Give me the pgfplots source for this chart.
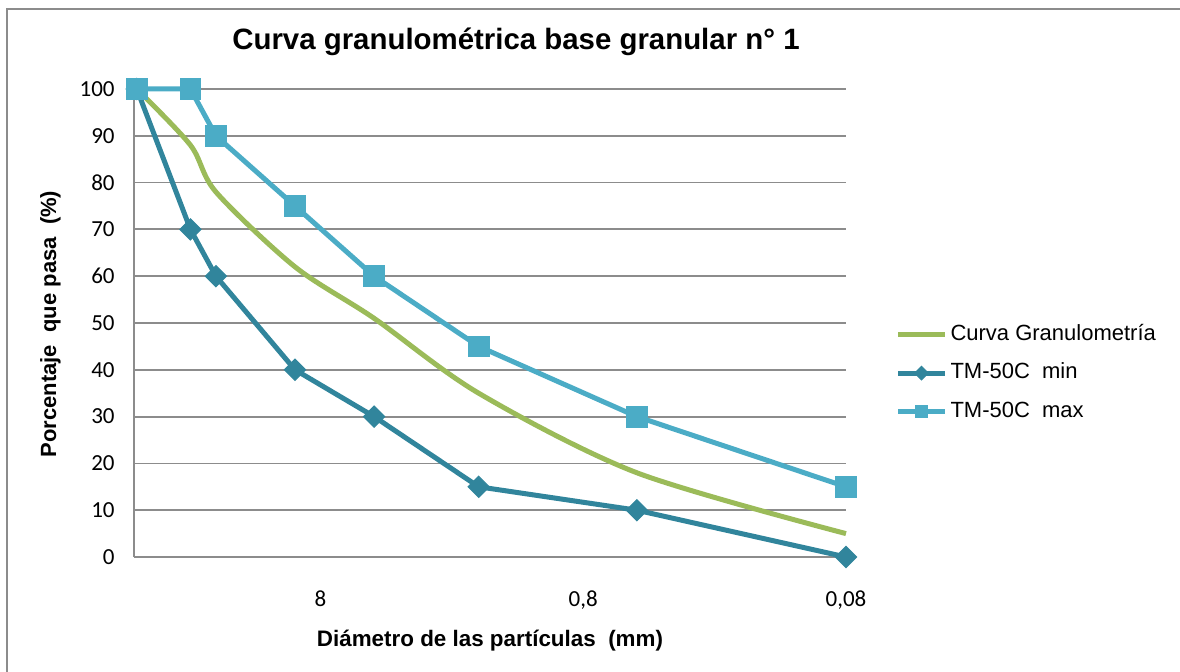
\documentclass[border=0pt]{standalone}
\usepackage{pgfplots}
\pgfplotsset{compat=1.18}
\usepackage{fontspec}
\setmainfont{Liberation Sans}
\newfontfamily\tickfont{Carlito}
\definecolor{curvegreen}{HTML}{9BBB59}
\definecolor{mintm}{HTML}{31859C}
\definecolor{maxtm}{HTML}{4BACC6}
\definecolor{gridgray}{HTML}{8C8C8C}

% sieve sizes (mm) and percentage passing
\pgfplotstableread{
d     pct
40    100
25    88
20    78
10    62
5     51
2     35
0.5   18
0.08  5
}\curvadata
\pgfplotstableread{
d     pct
40    100
25    70
20    60
10    40
5     30
2     15
0.5   10
0.08  0
}\mindata
\pgfplotstableread{
d     pct
40    100
25    100
20    90
10    75
5     60
2     45
0.5   30
0.08  15
}\maxdata

\begin{document}
\begin{tikzpicture}[x=0.5pt,y=0.5pt]
\path[use as bounding box] (0,0) rectangle (1180,671);
% chart frame
\draw[gridgray, line width=1pt] (7,-10) -- (7,662) -- (1195,662);

\begin{axis}[
  at={(67pt,57pt)}, anchor=south west,
  scale only axis, width=356pt, height=234pt,
  xmode=log, x dir=reverse, xmin=0.08, xmax=41,
  ymin=0, ymax=100, ytick={0,10,...,100},
  xtick={0.08,0.8,8}, xticklabels={{0,08},{0,8},{8}},
  xminorticks=false,
  axis x line*=bottom, axis y line*=left,
  axis line style={gridgray, line width=0.9pt, -},
  ymajorgrids, major grid style={gridgray, line width=0.9pt},
  major tick length=0pt, tick style={draw=none},
  /pgf/number format/assume math mode=true,
  ticklabel style={font=\tickfont\fontsize{11.5}{13}\selectfont},
  xticklabel style={inner sep=0pt, anchor=north, yshift=-16.5pt},
  yticklabel style={inner sep=0pt, anchor=east, xshift=-9.5pt},
  clip=false,
  legend style={at={(1.069,0.393)}, anchor=west, draw=none, fill=none,
    inner sep=0pt, column sep=1.5pt, row sep=8.75pt,
    nodes={inner sep=0pt, text height=8pt, text depth=2.5pt},
    font=\fontsize{11}{13}\selectfont},
  legend cell align=left,
  legend image code/.code={
    \draw[mark repeat=2, mark phase=2, #1]
      plot coordinates {(0pt,0pt) (11.75pt,0pt) (23.5pt,0pt)};},
]
\addplot[curvegreen, line width=2.5pt, smooth, tension=0.5, no marks]
  table[x=d, y=pct] {\curvadata};
\addlegendentry{Curva Granulometría}

\addplot[mintm, line width=2.5pt, mark=square*, mark size=3.75pt,
  mark options={rotate=45, fill=mintm, draw=mintm, line width=0.5pt},
  legend image post style={mark size=2.4pt}]
  table[x=d, y=pct] {\mindata};
\addlegendentry{TM-50C\ \ min}

\addplot[maxtm, line width=2.5pt, mark=square*, mark size=5.2pt,
  mark options={fill=maxtm, draw=maxtm, line width=0.5pt},
  legend image post style={mark size=3.2pt}]
  table[x=d, y=pct] {\maxdata};
\addlegendentry{TM-50C\ \ max}
\end{axis}

\node[anchor=base, font=\bfseries\fontsize{14.7}{17}\selectfont]
  at (516,621) {Curva granulométrica base granular n° 1};
\node[anchor=base, font=\bfseries\fontsize{11.2}{13}\selectfont]
  at (490,25) {Diámetro de las partículas\ \ (mm)};
\node[anchor=base, rotate=90, font=\bfseries\fontsize{11}{13}\selectfont]
  at (56,347) {Porcentaje\ \ que pasa\ \ (\%)};
\end{tikzpicture}
\end{document}
